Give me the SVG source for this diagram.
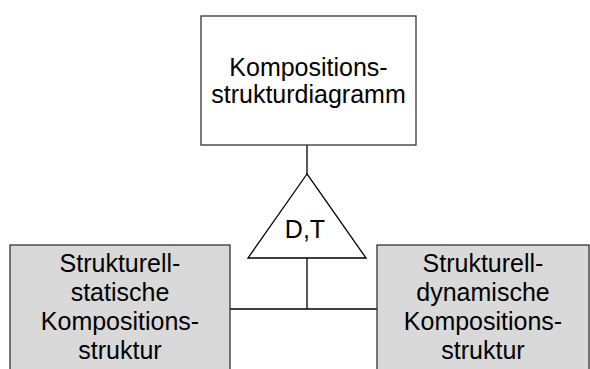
<svg xmlns="http://www.w3.org/2000/svg" width="590" height="369" viewBox="0 0 590 369">
<style>
.box{stroke:#333;stroke-width:1.3}
.white{fill:#fff}
.gray{fill:#d9d9d9}
.t{font-family:"Liberation Sans",Arial,sans-serif;font-size:25px;fill:#000;text-anchor:middle}
.ln{stroke:#000;stroke-width:1.3;fill:none}
</style>
<rect width="590" height="369" fill="#fff"/>
<g id="connectors">
<line class="ln" x1="307" y1="145" x2="307" y2="174"/>
<line class="ln" x1="307" y1="258" x2="307" y2="309"/>
<line class="ln" x1="230" y1="309" x2="377" y2="309"/>
</g>
<g id="kompositionsstrukturdiagramm">
<rect class="box white" x="201" y="16" width="215" height="129"/>
<text class="t" x="308.5" y="76">Kompositions-</text>
<text class="t" x="308.5" y="103">strukturdiagramm</text>
</g>
<g id="dt">
<polygon class="ln" fill="#fff" points="307,174 248,258 366,258" style="fill:#fff"/>
<text class="t" x="305" y="238">D,T</text>
</g>
<g id="statisch">
<rect class="box gray" x="10" y="245" width="220" height="130"/>
<text class="t" x="120" y="272">Strukturell-</text>
<text class="t" x="120" y="301">statische</text>
<text class="t" x="120" y="330">Kompositions-</text>
<text class="t" x="120" y="359">struktur</text>
</g>
<g id="dynamisch">
<rect class="box gray" x="377" y="245" width="212" height="130"/>
<text class="t" x="483" y="272">Strukturell-</text>
<text class="t" x="483" y="301">dynamische</text>
<text class="t" x="483" y="330">Kompositions-</text>
<text class="t" x="483" y="359">struktur</text>
</g>
</svg>
